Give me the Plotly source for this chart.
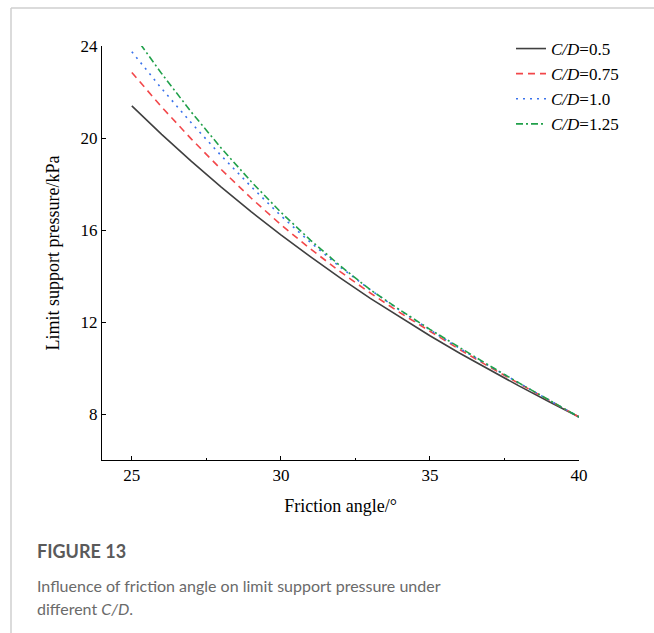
import plotly.graph_objects as go

angles = [25, 26, 27, 28, 29, 30, 31, 32, 33, 34, 35, 36, 37, 38, 39, 40]
cd_05 = [21.40, 20.16, 18.98, 17.86, 16.80, 15.79, 14.83, 13.91, 13.03, 12.20, 11.40, 10.64, 9.91, 9.21, 8.53, 7.87]
cd_075 = [22.85, 21.35, 19.95, 18.63, 17.39, 16.23, 15.17, 14.18, 13.26, 12.40, 11.60, 10.80, 10.04, 9.31, 8.60, 7.87]
cd_10 = [23.75, 22.15, 20.65, 19.23, 17.89, 16.62, 15.45, 14.38, 13.40, 12.50, 11.66, 10.85, 10.08, 9.33, 8.60, 7.87]
cd_125 = [24.60, 22.80, 21.12, 19.56, 18.11, 16.77, 15.55, 14.43, 13.40, 12.52, 11.68, 10.88, 10.10, 9.34, 8.60, 7.87]

names = ["<i>C/D</i>=0.5", "<i>C/D</i>=0.75", "<i>C/D</i>=1.0", "<i>C/D</i>=1.25"]
series = [cd_05, cd_075, cd_10, cd_125]
colors = ["#404040", "#f2474a", "#3a72ec", "#20a04a"]
dashes = ["solid", "7px,5px", "2px,5px", "7px,3px,2px,3px"]

x_ticks = [25, 30, 35, 40]
x_minor = [27.5, 32.5, 37.5]
y_ticks = [8, 12, 16, 20, 24]

fig = go.Figure()
for n, s, c, d in zip(names, series, colors, dashes):
    fig.add_trace(go.Scatter(x=angles, y=s, mode="lines", name=n,
                             line=dict(color=c, width=1.6, dash=d)))

serif = "Liberation Serif"
W, H = 654, 633
L, R, T, B = 102, 75, 46, 173
pw, ph = W - L - R, H - T - B

def px2x(px):
    return (px - L) / pw

def py2y(py):
    return (H - B - py) / ph

tick_font = dict(family="Liberation Serif, Times New Roman, serif", size=17, color="black")

fig.update_layout(
    width=W, height=H,
    margin=dict(l=L, r=R, t=T, b=B),
    paper_bgcolor="white", plot_bgcolor="white",
    font=dict(family=serif, size=17, color="black"),
    showlegend=True,
    legend=dict(x=px2x(511), y=py2y(31), xanchor="left", yanchor="top",
                bgcolor="rgba(0,0,0,0)", font=dict(family=serif, size=17),
                tracegroupgap=0, itemwidth=30),
)
fig.update_xaxes(range=[24, 40], tickmode="array", tickvals=x_ticks,
                 ticktext=[str(v) for v in x_ticks],
                 ticks="inside", ticklen=4, tickcolor="black",
                 showline=True, linecolor="black", linewidth=1, showgrid=False,
                 zeroline=False, tickfont=tick_font,
                 minor=dict(tickvals=x_minor, ticks="inside", ticklen=2, tickcolor="black"),
                 title=dict(text="Friction angle/°", font=dict(family=serif, size=18), standoff=14))
fig.update_yaxes(range=[6, 24], tickmode="array", tickvals=y_ticks,
                 ticktext=[str(v) for v in y_ticks],
                 ticks="inside", ticklen=4, tickcolor="black",
                 showline=True, linecolor="black", linewidth=1, showgrid=False,
                 zeroline=False, tickfont=tick_font,
                 title=dict(text="Limit support pressure/kPa", font=dict(family=serif, size=18), standoff=16))

# page frame lines (light gray)
fig.add_shape(type="line", xref="paper", yref="paper",
              x0=px2x(11), x1=px2x(11), y0=py2y(8), y1=py2y(640),
              line=dict(color="#cfcfcf", width=1.5))
fig.add_shape(type="line", xref="paper", yref="paper",
              x0=px2x(11), x1=px2x(660), y0=py2y(8), y1=py2y(8),
              line=dict(color="#cfcfcf", width=1.5))

cap_font = "Lato"
fig.add_annotation(xref="paper", yref="paper", x=px2x(35), y=py2y(551),
                   xanchor="left", yanchor="middle", showarrow=False,
                   text="<b>FIGURE 13</b>", font=dict(family=cap_font, size=18, color="#5a5a5a"))
fig.add_annotation(xref="paper", yref="paper", x=px2x(35), y=py2y(585),
                   xanchor="left", yanchor="middle", showarrow=False,
                   text="Influence of friction angle on limit support pressure under",
                   font=dict(family=cap_font, size=16, color="#6a6a6a"))
fig.add_annotation(xref="paper", yref="paper", x=px2x(35), y=py2y(608),
                   xanchor="left", yanchor="middle", showarrow=False,
                   text="different <i>C/D</i>.",
                   font=dict(family=cap_font, size=16, color="#6a6a6a"))

fig.write_html("out.html")
